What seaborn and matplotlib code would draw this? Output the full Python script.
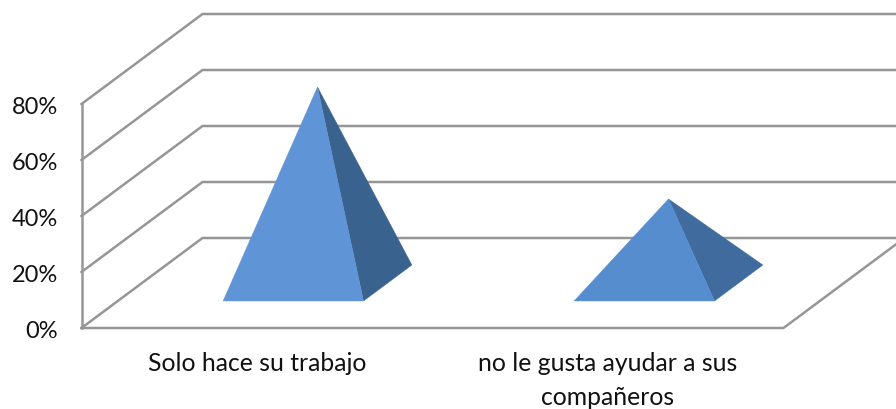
import matplotlib
matplotlib.use("Agg")
import matplotlib.pyplot as plt
import seaborn as sns
from matplotlib.transforms import ScaledTranslation

categories = ["Solo hace su trabajo", "no le gusta ayudar a sus\ncompañeros"]
values = [0.70, 0.30]
yticks = [0, 0.2, 0.4, 0.6, 0.8]
ytick_labels = ["0%", "20%", "40%", "60%", "80%"]
front_colors = ["#5F94D6", "#558DCF"]
side_colors = ["#3A628F", "#3F6B9E"]

sns.set_style("white")
plt.rcParams["font.family"] = ["Lato", "DejaVu Sans"]

W, H = 896, 409
fig = plt.figure(figsize=(W / 100, H / 100), dpi=100, facecolor="white")
ax = fig.add_axes([81.5 / W, (H - 328) / H, (783 - 81) / W, (328 - 104) / H])
ax.set_xlim(0, 2)
ax.set_ylim(0, 0.8)
ax.patch.set_visible(False)

# oblique depth projection: full depth shifts x by DX categories and y by DY value
DX = 121 / 351
DY = 0.8 * 90 / 224
GRID = "#969696"
LW = 1.8


def proj(x, y, d):
    return x + d * DX, y + d * DY


def line(points, **kw):
    xs, ys = zip(*points)
    ax.plot(xs, ys, color=GRID, lw=LW, clip_on=False, solid_capstyle="projecting",
            solid_joinstyle="miter", zorder=1, **kw)


# wall gridlines
for t in yticks:
    line([proj(0, t, 0), proj(0, t, 1), proj(2.1, t, 1)])
# floor and wall edges
line([proj(0, 0, 0), proj(2, 0, 0), proj(2, 0, 1)])
line([proj(0, 0, 0), proj(0, 0.8, 0)])

# pyramids
half = 0.2
d0, d1 = 0.3, 0.7
for i, v in enumerate(values):
    c = i + 0.5
    apex = proj(c, v, 0.5)
    fl = proj(c - half, 0, d0)
    fr = proj(c + half, 0, d0)
    br = proj(c + half, 0, d1)
    for pts, col in (([fr, br, apex], side_colors[i]), ([fl, fr, apex], front_colors[i])):
        xs, ys = zip(*pts)
        ax.fill(xs, ys, color=col, lw=0.3, clip_on=False, zorder=3)

ax.set_xticks([0.5, 1.5])
ax.set_xticklabels(categories, fontsize=17.8, color="#111111", linespacing=1.6)
ax.set_yticks(yticks)
ax.set_yticklabels(ytick_labels, fontsize=17, color="#111111")
ax.tick_params(axis="both", length=0)
ax.tick_params(axis="x", pad=17)
ax.tick_params(axis="y", pad=17)
shift = ScaledTranslation(0, -1.5 / 100, fig.dpi_scale_trans)
for lbl in ax.get_yticklabels():
    lbl.set_transform(lbl.get_transform() + shift)
sns.despine(ax=ax, left=True, bottom=True)

fig.savefig("out.png", dpi=100, facecolor="white")
